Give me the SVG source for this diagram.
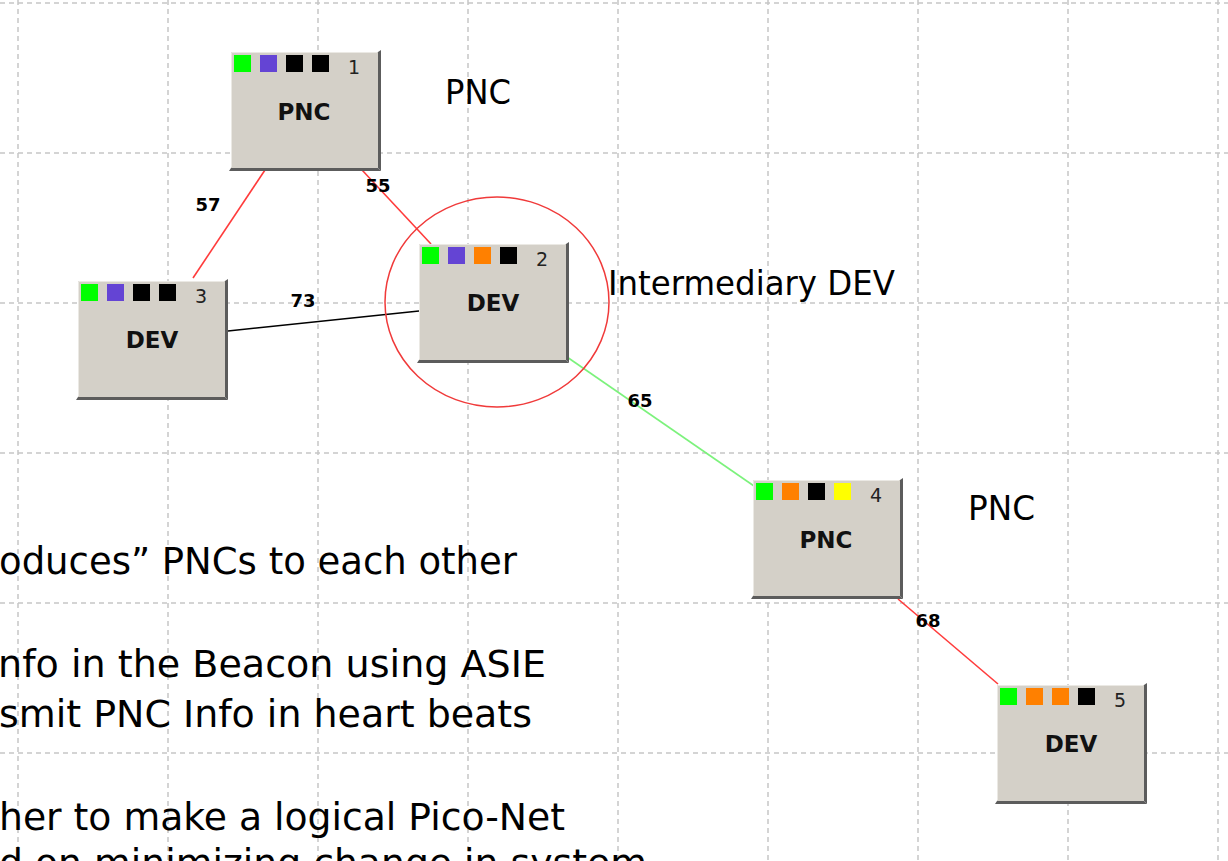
<svg xmlns="http://www.w3.org/2000/svg" xmlns:xlink="http://www.w3.org/1999/xlink" width="1228" height="861" viewBox="0 0 1228 861">
<style>
.grid{stroke:#c6c6c6;stroke-width:1.5;stroke-dasharray:5 4;fill:none}
.body{fill:#d4d0c8}
.hl{stroke:#ebe9e4;stroke-width:1;fill:none}
.shadow{fill:#5c5c5c}
.nlabel{font-family:"DejaVu Sans",sans-serif;font-weight:bold;font-size:23px;text-anchor:middle;fill:#111}
.nnum{font-family:"DejaVu Sans",sans-serif;font-size:19px;text-anchor:middle;fill:#222}
.elabel{font-family:"DejaVu Sans",sans-serif;font-weight:bold;font-size:18px;text-anchor:middle;fill:#000}
.txt{font-family:"DejaVu Sans",sans-serif;font-size:37px;fill:#000}
.ann{font-family:"DejaVu Sans",sans-serif;font-size:33px;fill:#000}
.sg{fill:#00ff00}.sp{fill:#6444d4}.so{fill:#ff8000}.sk{fill:#000000}.sy{fill:#ffff00}
.red{stroke:#ff3b3b;stroke-width:1.6;fill:none}
.grn{stroke:#7cf27c;stroke-width:1.6;fill:none}
.blk{stroke:#000;stroke-width:1.5;fill:none}
</style>
<defs>
<g id="frame">
<polygon class="shadow" points="147,0 150,-2 150,119 147,116"/>
<polygon class="shadow" points="-2,119 0,116 147,116 150,119"/>
<rect class="body" x="0" y="0" width="147" height="116"/>
<polyline class="hl" points="0.5,115 0.5,0.5 146,0.5"/>
</g>
</defs>
<rect width="1228" height="861" fill="#ffffff"/>
<g id="grid">
<line class="grid" x1="18" y1="0" x2="18" y2="861"/>
<line class="grid" x1="168" y1="0" x2="168" y2="861"/>
<line class="grid" x1="318" y1="0" x2="318" y2="861"/>
<line class="grid" x1="468" y1="0" x2="468" y2="861"/>
<line class="grid" x1="618" y1="0" x2="618" y2="861"/>
<line class="grid" x1="768" y1="0" x2="768" y2="861"/>
<line class="grid" x1="918" y1="0" x2="918" y2="861"/>
<line class="grid" x1="1068" y1="0" x2="1068" y2="861"/>
<line class="grid" x1="1218" y1="0" x2="1218" y2="861"/>
<line class="grid" x1="0" y1="3" x2="1228" y2="3"/>
<line class="grid" x1="0" y1="153" x2="1228" y2="153"/>
<line class="grid" x1="0" y1="303" x2="1228" y2="303"/>
<line class="grid" x1="0" y1="453" x2="1228" y2="453"/>
<line class="grid" x1="0" y1="603" x2="1228" y2="603"/>
<line class="grid" x1="0" y1="753" x2="1228" y2="753"/>
</g>
<g id="connectors">
<line class="red" x1="265" y1="170" x2="193" y2="278"/>
<line class="red" x1="362" y1="170" x2="431" y2="244"/>
<line class="blk" x1="228" y1="331" x2="419" y2="311"/>
<line class="grn" x1="567" y1="357" x2="754" y2="486"/>
<line class="red" x1="898" y1="599" x2="998" y2="684"/>
<text class="elabel" x="208" y="211">57</text>
<text class="elabel" x="378" y="192">55</text>
<text class="elabel" x="303" y="307">73</text>
<text class="elabel" x="640" y="407">65</text>
<text class="elabel" x="928" y="627">68</text>
</g>
<g id="node1" transform="translate(231,52)">
<use xlink:href="#frame"/>
<rect class="sg" x="3" y="3" width="17" height="17"/>
<rect class="sp" x="29" y="3" width="17" height="17"/>
<rect class="sk" x="55" y="3" width="17" height="17"/>
<rect class="sk" x="81" y="3" width="17" height="17"/>
<text class="nnum" x="123" y="22">1</text>
<text class="nlabel" x="73" y="68">PNC</text>
</g>
<g id="node3" transform="translate(78,281)">
<use xlink:href="#frame"/>
<rect class="sg" x="3" y="3" width="17" height="17"/>
<rect class="sp" x="29" y="3" width="17" height="17"/>
<rect class="sk" x="55" y="3" width="17" height="17"/>
<rect class="sk" x="81" y="3" width="17" height="17"/>
<text class="nnum" x="123" y="22">3</text>
<text class="nlabel" x="74" y="67">DEV</text>
</g>
<g id="node2" transform="translate(419,244)">
<use xlink:href="#frame"/>
<rect class="sg" x="3" y="3" width="17" height="17"/>
<rect class="sp" x="29" y="3" width="17" height="17"/>
<rect class="so" x="55" y="3" width="17" height="17"/>
<rect class="sk" x="81" y="3" width="17" height="17"/>
<text class="nnum" x="123" y="22">2</text>
<text class="nlabel" x="74" y="67">DEV</text>
</g>
<g id="node4" transform="translate(753,480)">
<use xlink:href="#frame"/>
<rect class="sg" x="3" y="3" width="17" height="17"/>
<rect class="so" x="29" y="3" width="17" height="17"/>
<rect class="sk" x="55" y="3" width="17" height="17"/>
<rect class="sy" x="81" y="3" width="17" height="17"/>
<text class="nnum" x="123" y="22">4</text>
<text class="nlabel" x="73" y="68">PNC</text>
</g>
<g id="node5" transform="translate(997,685)">
<use xlink:href="#frame"/>
<rect class="sg" x="3" y="3" width="17" height="17"/>
<rect class="so" x="29" y="3" width="17" height="17"/>
<rect class="so" x="55" y="3" width="17" height="17"/>
<rect class="sk" x="81" y="3" width="17" height="17"/>
<text class="nnum" x="123" y="22">5</text>
<text class="nlabel" x="74" y="67">DEV</text>
</g>
<g id="highlight">
<ellipse cx="497" cy="302" rx="112" ry="105" fill="none" stroke="#f03a3a" stroke-width="1.5"/>
</g>
<g id="annotations">
<text class="ann" x="445" y="104" textLength="66" lengthAdjust="spacingAndGlyphs">PNC</text>
<text class="ann" x="608" y="295" textLength="287" lengthAdjust="spacingAndGlyphs">Intermediary DEV</text>
<text class="ann" x="968" y="520" textLength="67" lengthAdjust="spacingAndGlyphs">PNC</text>
</g>
<g id="bodytext">
<text class="txt" x="-1" y="574" textLength="518" lengthAdjust="spacingAndGlyphs">oduces” PNCs to each other</text>
<text class="txt" x="-2" y="677" textLength="548" lengthAdjust="spacingAndGlyphs">nfo in the Beacon using ASIE</text>
<text class="txt" x="-1" y="727" textLength="533" lengthAdjust="spacingAndGlyphs">smit PNC Info in heart beats</text>
<text class="txt" x="-1" y="830" textLength="566" lengthAdjust="spacingAndGlyphs">her to make a logical Pico-Net</text>
<text class="txt" x="-1" y="876" textLength="648" lengthAdjust="spacingAndGlyphs">d on minimizing change in system</text>
</g>
</svg>
